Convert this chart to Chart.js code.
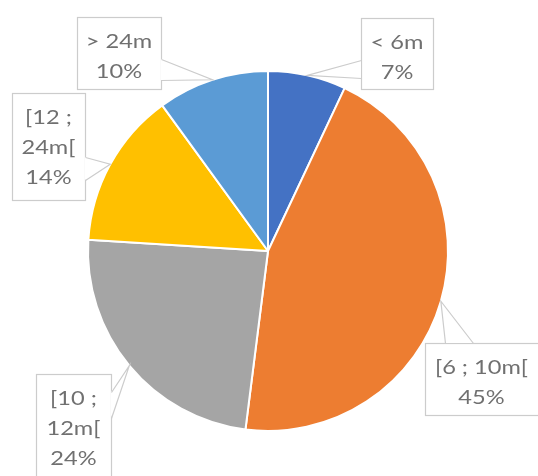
<!DOCTYPE html>
<html>
<head>
<meta charset="utf-8">
<script src="https://cdn.jsdelivr.net/npm/chart.js@4.4.0/dist/chart.umd.min.js"></script>
<style>
    body { margin: 0; background: #fff; }
    #wrap { width: 538px; height: 476px; }
</style>
</head>
<body>
<div id="wrap"><canvas id="pieLength" width="538" height="476"></canvas></div>
<script>
// DATA
const lengthLabels = ["< 6m", "[6 ; 10m[", "[10 ; 12m[", "[12 ; 24m[", "> 24m"];
const lengthShares = [7, 45, 24, 14, 10];
const sliceColors = ["#4472C4", "#ED7D31", "#A5A5A5", "#FFC000", "#5B9BD5"];

// CALLOUT BOXES (layout only: box + side of the pointer + where it sits on that side)
const calloutBoxes = [
    { x: 361, y: 18, w: 72, h: 71, side: "left", base: [60, 78] },
    { x: 425, y: 343, w: 125, h: 72, side: "top", base: [445, 473], tw: 113 },
    { x: 36, y: 374, w: 75, h: 120, side: "right", base: [392, 418] },
    { x: 12, y: 93, w: 73, h: 107, side: "right", base: [157, 180] },
    { x: 77, y: 17, w: 84, h: 72, side: "right", base: [59, 80] },
];

const FONT = "20px Lato, 'Open Sans', sans-serif";
const STRETCH = 1.18;
const LINE_H = 30;

function wrapText(ctx, text, maxW) {
    const words = text.split(" ");
    const lines = [];
    let cur = "";
    words.forEach(function (w) {
        const test = cur ? cur + " " + w : w;
        if (cur && ctx.measureText(test).width * STRETCH > maxW) {
            lines.push(cur);
            cur = w;
        } else {
            cur = test;
        }
    });
    if (cur) lines.push(cur);
    return lines;
}

// CALLOUT PLUGIN
const calloutPlugin = {
    id: "callouts",
    afterDatasetsDraw: function (chart) {
        const ctx = chart.ctx;
        const arcs = chart.getDatasetMeta(0).data;
        const total = lengthShares.reduce(function (a, c) { return a + c; }, 0);
        ctx.save();
        ctx.font = FONT;
        arcs.forEach(function (arc, i) {
            const b = calloutBoxes[i];
            const mid = (arc.startAngle + arc.endAngle) / 2;
            const ax = arc.x + Math.cos(mid) * arc.outerRadius;
            const ay = arc.y + Math.sin(mid) * arc.outerRadius;

            let p1, p2;
            if (b.side === "left") {
                p1 = [b.x, b.base[0]]; p2 = [b.x, b.base[1]];
            } else if (b.side === "right") {
                p1 = [b.x + b.w, b.base[0]]; p2 = [b.x + b.w, b.base[1]];
            } else {
                p1 = [b.base[0], b.y]; p2 = [b.base[1], b.y];
            }

            // box
            ctx.fillStyle = "#ffffff";
            ctx.fillRect(b.x, b.y, b.w, b.h);
            ctx.strokeStyle = "#cccccc";
            ctx.lineWidth = 1.2;
            ctx.strokeRect(b.x + 0.5, b.y + 0.5, b.w, b.h);

            // pointer
            ctx.beginPath();
            ctx.moveTo(p1[0], p1[1]);
            ctx.lineTo(ax, ay);
            ctx.lineTo(p2[0], p2[1]);
            ctx.closePath();
            ctx.fillStyle = "#ffffff";
            ctx.fill();
            ctx.beginPath();
            ctx.moveTo(p1[0] + 0.5, p1[1] + 0.5);
            ctx.lineTo(ax, ay);
            ctx.lineTo(p2[0] + 0.5, p2[1] + 0.5);
            ctx.stroke();

            // text
            const tw = b.tw || b.w;
            const pct = Math.round(lengthShares[i] / total * 100) + "%";
            const lines = wrapText(ctx, lengthLabels[i], tw - 8).concat([pct]);
            ctx.fillStyle = "#707070";
            ctx.textAlign = "center";
            ctx.textBaseline = "middle";
            const cx = b.x + tw / 2;
            const top = b.y + 25;
            lines.forEach(function (ln, k) {
                ctx.save();
                ctx.translate(cx, top + k * LINE_H);
                ctx.scale(STRETCH, 1);
                ctx.fillText(ln, 0, 0);
                ctx.restore();
            });
        });
        ctx.restore();
    },
};

const ctx = document.getElementById("pieLength").getContext("2d");
new Chart(ctx, {
    type: "pie",
    data: {
        labels: lengthLabels,
        datasets: [
            {
                data: lengthShares,
                backgroundColor: sliceColors,
                borderColor: "#ffffff",
                borderWidth: 2,
            },
        ],
    },
    options: {
        responsive: false,
        animation: false,
        layout: {
            padding: { left: 87, right: 89, top: 70, bottom: 44 },
        },
        plugins: {
            legend: { display: false },
            tooltip: { enabled: false },
        },
    },
    plugins: [calloutPlugin],
});
</script>
</body>
</html>
